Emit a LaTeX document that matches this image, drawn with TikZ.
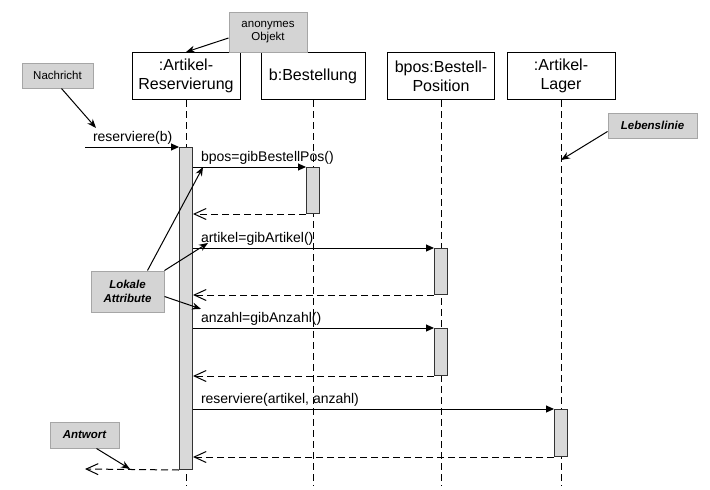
\documentclass[tikz,border=0pt]{standalone}
\usepackage{fontspec}
\setmainfont{Liberation Sans}
\usetikzlibrary{arrows.meta}

\begin{document}
\begin{tikzpicture}[x=1pt, y=-1pt,
    obj/.style={draw, fill=white, line width=1pt, minimum height=47pt, align=center, inner sep=1pt, font=\fontsize{16pt}{19pt}\selectfont},
    act/.style={draw=black!80, fill=black!15, line width=1pt, minimum width=13pt, inner sep=0pt, anchor=north},
    note/.style={draw=black!35, fill=black!17, line width=1pt, align=center, inner sep=1pt, font=\fontsize{11.5pt}{13.5pt}\selectfont},
    lbl/.style={anchor=south west, xshift=5pt, inner sep=2.5pt, font=\fontsize{14pt}{16pt}\selectfont},
    msg/.style={line width=1pt, -{Triangle[length=8pt,width=7pt]}},
    ret/.style={line width=1pt, dash pattern=on 7pt off 4pt, -{Straight Barb[length=12pt,width=11pt]}},
    life/.style={line width=1pt, dash pattern=on 7pt off 4pt},
    hint/.style={line width=1pt, -{Stealth[length=9pt,width=7pt]}}]
    \useasboundingbox (0,0) rectangle (710,490);

    % Objekte
    \node (res) [obj, minimum width=108pt] at (186,76) {:Artikel-\\Reservierung};
    \node (best) [obj, minimum width=104pt] at (313,76) {b:Bestellung};
    \node (pos) [obj, minimum width=107pt] at (441,76) {bpos:Bestell-\\Position};
    \node (lager) [obj, minimum width=108pt] at (561,76) {:Artikel-\\Lager};

    % Lebenslinien
    \coordinate (bot) at (0,486);
    \foreach \o in {res,best,pos,lager}
        \draw[life] (\o.south) -- (\o.south |- bot);

    % Aktivierungen
    \node (a0) [act, minimum height=322pt] at (186,147) {};
    \node (a1) [act, minimum height=46pt] at (313,167) {};
    \node (a2) [act, minimum height=46pt] at (441,248) {};
    \node (a3) [act, minimum height=47pt] at (441,328) {};
    \node (a4) [act, minimum height=47pt] at (561,409) {};

    % Nachrichten
    \coordinate (in) at (85,147);
    \coordinate (out) at (85,469);
    \draw[msg] (in) node[lbl] (m0) {reserviere(b)} -- (a0.north west);
    \draw[msg] (a0.east |- a1.north) node[lbl] (m1) {bpos=gibBestellPos()} -- (a1.north west);
    \draw[ret] (a1.south west) -- (a0.east |- a1.south);
    \draw[msg] (a0.east |- a2.north) node[lbl] (m2) {artikel=gibArtikel()} -- (a2.north west);
    \draw[ret] (a2.south west) -- (a0.east |- a2.south);
    \draw[msg] (a0.east |- a3.north) node[lbl] (m3) {anzahl=gibAnzahl()} -- (a3.north west);
    \draw[ret] (a3.south west) -- (a0.east |- a3.south);
    \draw[msg] (a0.east |- a4.north) node[lbl] (m4) {reserviere(artikel, anzahl)} -- (a4.north west);
    \draw[ret] (a4.south west) -- (a0.east |- a4.south);
    \draw[ret] (a0.south west) -- (out);

    % Anmerkungen
    \node (anon) [note, minimum width=78pt, minimum height=40pt] at (268,32) {anonymes\\Objekt};
    \node (nach) [note, minimum width=71pt, minimum height=25pt] at (57.5,75.5) {Nachricht};
    \node (leben) [note, minimum width=89pt, minimum height=25pt, font=\fontsize{11.5pt}{13.5pt}\selectfont\bfseries\itshape] at (652.5,125.5) {Lebenslinie};
    \node (lok) [note, minimum width=73pt, minimum height=41pt, font=\fontsize{11.5pt}{13.5pt}\selectfont\bfseries\itshape] at (127.5,291.5) {Lokale\\Attribute};
    \node (antw) [note, minimum width=69pt, minimum height=26pt, font=\fontsize{11.5pt}{13.5pt}\selectfont\bfseries\itshape] at (84.5,435) {Antwort};

    \draw[hint] ([yshift=-6pt]anon.west) -- (res.north);
    \draw[hint] ([xshift=4pt]nach.south) -- ([xshift=6pt]m0.north west);
    \draw[hint] ([yshift=-6pt]leben.west) -- ([yshift=-60pt]lager.south);
    \draw[hint] ([xshift=20pt]lok.north) -- ([xshift=5pt]m1.south west);
    \draw[hint] (lok.north east) -- ([xshift=10pt,yshift=5pt]m2.south west);
    \draw[hint] ([yshift=-5pt]lok.east) -- ([xshift=3pt]m3.north west);
    \draw[hint] ([xshift=12pt]antw.south) -- ([xshift=45pt]out);
\end{tikzpicture}
\end{document}
